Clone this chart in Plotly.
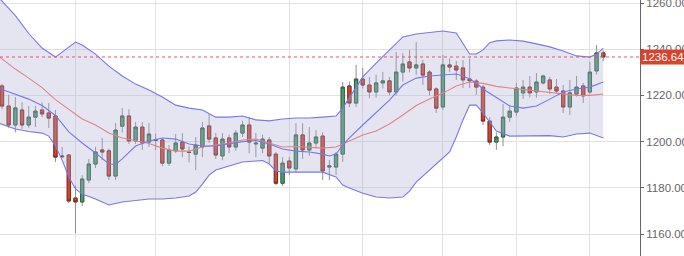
import plotly.graph_objects as go

# ---------------- data ----------------
days = list(range(91))
opens = [1224.1, 1215.4, 1207.2, 1213.7, 1207.2, 1210.6, 1213.7, 1212.4, 1211.1, 1193.8,
         1194.2, 1175.6, 1173.9, 1183.4, 1190.3, 1196.4, 1196.0, 1185.1, 1206.7, 1211.1,
         1200.3, 1206.3, 1199.8, 1200.5, 1200.7, 1190.7, 1196.0, 1199.8, 1195.5, 1194.6,
         1197.7, 1206.8, 1201.6, 1193.8, 1201.6, 1197.7, 1203.7, 1207.2, 1199.0, 1197.2,
         1200.7, 1194.6, 1182.0, 1191.6, 1188.2, 1202.9, 1196.4, 1199.4, 1202.4, 1189.0,
         1189.0, 1194.6, 1224.1, 1216.7, 1227.1, 1224.5, 1221.5, 1225.4, 1226.3, 1221.5,
         1230.1, 1234.5, 1231.9, 1233.6, 1230.1, 1222.8, 1215.0, 1233.2, 1232.7, 1231.9,
         1227.1, 1226.2, 1223.6, 1208.9, 1199.8, 1202.0, 1210.6, 1212.8, 1221.1, 1223.6,
         1221.5, 1225.4, 1226.7, 1223.6, 1221.9, 1215.0, 1220.6, 1224.1, 1221.5, 1230.6,
         1238.4]
highs = [1225.0, 1220.2, 1219.3, 1217.0, 1215.4, 1215.4, 1217.0, 1216.7, 1213.7, 1197.7,
         1194.6, 1181.0, 1185.5, 1192.5, 1197.7, 1201.6, 1197.0, 1208.0, 1214.5, 1214.0,
         1208.5, 1208.5, 1208.0, 1203.5, 1201.5, 1198.5, 1203.3, 1203.7, 1198.0, 1202.0,
         1208.5, 1212.0, 1203.7, 1203.7, 1203.0, 1205.0, 1209.0, 1210.6, 1203.7, 1203.0,
         1202.0, 1195.5, 1193.3, 1193.3, 1208.0, 1208.0, 1206.3, 1205.0, 1204.0, 1192.0,
         1195.5, 1225.8, 1226.0, 1233.2, 1231.9, 1228.0, 1229.0, 1230.2, 1228.0, 1238.8,
         1238.2, 1239.7, 1243.0, 1235.3, 1231.0, 1223.5, 1237.5, 1236.0, 1235.0, 1235.3,
         1236.0, 1227.0, 1224.5, 1210.6, 1204.0, 1216.3, 1215.8, 1225.4, 1226.7, 1228.4,
         1229.7, 1229.0, 1228.0, 1227.1, 1224.5, 1226.7, 1228.4, 1225.4, 1234.5, 1241.8,
         1239.5]
lows = [1214.0, 1206.0, 1204.0, 1205.5, 1206.0, 1206.3, 1210.6, 1205.9, 1191.2, 1192.9,
        1173.4, 1160.4, 1172.1, 1182.0, 1188.6, 1192.0, 1183.4, 1183.4, 1204.0, 1199.0,
        1199.0, 1196.4, 1197.7, 1196.4, 1189.4, 1189.5, 1195.0, 1193.3, 1191.0, 1187.7,
        1193.3, 1199.4, 1192.5, 1192.0, 1195.0, 1196.0, 1202.0, 1195.0, 1193.3, 1195.0,
        1190.7, 1181.2, 1180.8, 1185.5, 1186.8, 1192.5, 1193.8, 1197.0, 1183.4, 1183.4,
        1185.5, 1191.2, 1215.0, 1215.0, 1223.0, 1218.8, 1219.0, 1223.0, 1220.0, 1220.0,
        1226.0, 1230.0, 1228.8, 1224.5, 1220.0, 1212.4, 1213.7, 1230.0, 1226.7, 1223.2,
        1223.2, 1220.2, 1207.2, 1198.5, 1196.4, 1198.0, 1208.5, 1211.0, 1218.5, 1219.0,
        1219.0, 1224.8, 1220.6, 1221.0, 1212.4, 1211.5, 1219.5, 1216.7, 1220.6, 1229.0,
        1234.8]
closes = [1215.4, 1207.2, 1214.6, 1207.2, 1210.6, 1213.2, 1212.0, 1210.2, 1193.3, 1193.5,
          1174.3, 1173.9, 1183.8, 1190.3, 1195.5, 1195.5, 1185.1, 1205.0, 1211.1, 1200.3,
          1206.3, 1199.4, 1203.3, 1200.9, 1190.7, 1196.4, 1199.4, 1196.8, 1195.3, 1198.5,
          1205.9, 1201.1, 1194.2, 1201.1, 1197.7, 1203.7, 1207.2, 1199.8, 1199.3, 1201.1,
          1193.8, 1182.0, 1190.7, 1188.6, 1202.9, 1196.4, 1199.4, 1202.0, 1187.3, 1189.5,
          1194.6, 1223.6, 1216.7, 1227.1, 1224.5, 1221.5, 1225.4, 1226.3, 1221.5, 1230.1,
          1233.6, 1231.9, 1233.2, 1228.8, 1222.3, 1214.5, 1233.2, 1232.3, 1231.0, 1226.7,
          1226.3, 1223.6, 1208.9, 1199.8, 1202.0, 1210.6, 1213.2, 1223.2, 1223.6, 1221.1,
          1225.8, 1228.4, 1222.8, 1221.9, 1215.0, 1221.1, 1223.6, 1219.8, 1230.1, 1238.4,
          1236.64]

up_idx = [-1, 0, 2, 4, 6, 8, 10, 11, 12, 14, 16, 18, 20, 22, 24, 26, 28, 30, 32, 34,
          36, 38, 40, 42, 44, 46, 48, 50, 51, 52, 54, 56, 58, 60, 62, 64, 66, 68, 69, 70,
          71, 72, 73, 74, 76, 78, 80, 82, 84, 86, 88, 89, 90]
upper = [1264.0, 1260.9, 1254.5, 1246.8, 1240.5, 1236.6, 1241.0, 1243.1, 1241.8, 1237.9,
         1232.7, 1228.4, 1224.9, 1222.3, 1219.3, 1215.8, 1214.5, 1213.7, 1210.6, 1210.6,
         1211.1, 1209.4, 1209.0, 1209.8, 1210.2, 1210.2, 1210.6, 1211.1, 1214.5, 1218.9,
         1228.0, 1234.0, 1239.7, 1245.3, 1246.6, 1247.4, 1247.9, 1247.0, 1242.3, 1237.9,
         1237.9, 1239.7, 1242.8, 1243.6, 1244.0, 1243.5, 1242.3, 1241.0, 1239.2, 1237.1,
         1236.6, 1237.9, 1240.5]

lo_idx = [-1, 0, 2, 4, 6, 7, 8, 9, 10, 11, 12, 14, 16, 18, 20, 22, 24, 26, 28, 29,
          30, 31, 32, 34, 36, 38, 39, 40, 41, 42, 44, 46, 48, 50, 51, 52, 54, 56, 58, 60,
          61, 62, 64, 66, 67, 68, 69, 70, 71, 72, 73, 74, 76, 78, 80, 82, 84, 86, 88, 90]
lower = [1208.5, 1207.6, 1205.5, 1204.4, 1203.7, 1202.4, 1198.1, 1192.0, 1184.7, 1179.5,
         1177.3, 1175.2, 1172.6, 1173.9, 1174.7, 1175.2, 1175.2, 1175.6, 1176.5, 1178.2,
         1181.6, 1185.5, 1187.7, 1189.4, 1191.2, 1191.6, 1191.8, 1190.3, 1187.3, 1186.8,
         1186.8, 1186.8, 1186.8, 1184.7, 1181.2, 1179.9, 1177.7, 1176.0, 1175.6, 1176.0,
         1178.6, 1182.5, 1187.7, 1192.5, 1195.5, 1202.0, 1209.4, 1215.8, 1215.8, 1212.4,
         1208.5, 1204.6, 1202.4, 1202.4, 1202.6, 1202.6, 1202.0, 1203.3, 1203.7, 1201.6]

mid_idx = [-1, 0, 2, 4, 6, 8, 10, 12, 14, 16, 17, 18, 20, 22, 24, 26, 28, 30, 32, 34,
           36, 38, 40, 42, 44, 46, 48, 49, 50, 51, 52, 54, 56, 58, 60, 62, 64, 66, 68, 69,
           70, 71, 72, 74, 76, 78, 80, 82, 84, 86, 88, 90]
middle = [1223.6, 1222.6, 1220.6, 1218.4, 1215.6, 1211.3, 1204.2, 1199.4, 1195.1, 1190.3,
          1190.1, 1192.5, 1198.1, 1200.3, 1201.6, 1201.1, 1199.0, 1198.1, 1198.1, 1199.0,
          1200.0, 1200.5, 1199.0, 1196.8, 1195.9, 1195.5, 1194.6, 1193.8, 1194.6, 1198.5,
          1201.6, 1207.2, 1212.4, 1218.0, 1224.5, 1227.5, 1228.4, 1228.8, 1229.3, 1228.4,
          1227.1, 1225.4, 1222.8, 1219.1, 1215.4, 1214.5, 1215.4, 1218.4, 1221.5, 1222.8,
          1223.6, 1225.8]

ma_idx = [-1, 0, 2, 4, 6, 8, 10, 12, 14, 16, 18, 20, 22, 24, 26, 28, 30, 32, 34, 36,
          38, 40, 42, 44, 46, 48, 50, 52, 54, 56, 58, 60, 62, 64, 66, 68, 70, 72, 74, 76,
          78, 80, 82, 84, 86, 88, 90]
ma = [1238.0, 1235.8, 1231.4, 1227.5, 1223.4, 1218.2, 1214.1, 1209.8, 1207.2, 1203.7,
      1201.6, 1200.3, 1199.2, 1197.2, 1195.9, 1195.9, 1197.7, 1198.5, 1199.4, 1200.7,
      1201.1, 1199.4, 1197.7, 1197.9, 1197.7, 1197.2, 1197.7, 1200.3, 1202.9, 1204.6,
      1207.6, 1211.5, 1215.6, 1218.4, 1221.0, 1224.1, 1225.8, 1225.2, 1223.9, 1223.2,
      1222.6, 1221.9, 1221.5, 1220.6, 1220.0, 1220.0, 1220.6]

last_price = 1236.64
grid_days = [11, 23, 43, 54, 66, 77, 88]
y_ticks = [1160, 1180, 1200, 1220, 1240, 1260]

# ---------------- styles ----------------
GREEN = "#4d9e6c"
GREEN_EDGE = "#2f5e42"
RED = "#d8432d"
RED_EDGE = "#7c2a1d"
WICK = "#8f8f8f"
BAND = "#7878e6"
MA_COLOR = "#e08585"
FONT = "Liberation Sans, Arial, sans-serif"

fig = go.Figure()

# band fill
fig.add_trace(go.Scatter(
    x=up_idx + lo_idx[::-1], y=upper + lower[::-1],
    fill="toself", fillcolor="rgba(175,175,215,0.33)",
    line=dict(width=0), mode="lines", hoverinfo="skip", showlegend=False))

fig.add_trace(go.Scatter(x=ma_idx, y=ma, mode="lines",
                         line=dict(color=MA_COLOR, width=1.1), showlegend=False))
fig.add_trace(go.Scatter(x=mid_idx, y=middle, mode="lines",
                         line=dict(color=BAND, width=1.1), showlegend=False))
fig.add_trace(go.Scatter(x=up_idx, y=upper, mode="lines",
                         line=dict(color=BAND, width=1.1), showlegend=False))
fig.add_trace(go.Scatter(x=lo_idx, y=lower, mode="lines",
                         line=dict(color=BAND, width=1.1), showlegend=False))

# wicks (gray)
fig.add_trace(go.Candlestick(
    x=days, open=opens, high=highs, low=lows, close=closes,
    increasing=dict(line=dict(color=WICK, width=1), fillcolor=GREEN),
    decreasing=dict(line=dict(color=WICK, width=1), fillcolor=RED),
    whiskerwidth=0, showlegend=False, hoverinfo="skip"))

# bodies with darker outline
body_hi = [max(o, c) for o, c in zip(opens, closes)]
body_lo = [min(o, c) for o, c in zip(opens, closes)]
fig.add_trace(go.Candlestick(
    x=days, open=opens, high=body_hi, low=body_lo, close=closes,
    increasing=dict(line=dict(color=GREEN_EDGE, width=1), fillcolor=GREEN),
    decreasing=dict(line=dict(color=RED_EDGE, width=1), fillcolor=RED),
    whiskerwidth=0, showlegend=False, hoverinfo="skip"))

# last price dotted line
fig.add_shape(type="line", xref="paper", x0=0, x1=1, yref="y",
              y0=last_price, y1=last_price, layer="above",
              line=dict(color="#e25a5a", width=1, dash="dot"))

fig.add_annotation(xref="paper", x=1, xanchor="left", yref="y", y=last_price,
                   text=f"{last_price:.2f}", showarrow=False,
                   font=dict(family=FONT, size=11.5, color="white"),
                   bgcolor=RED, borderpad=1, xshift=0)

fig.update_layout(
    width=684, height=256,
    margin=dict(l=0, r=44, t=0, b=0, autoexpand=False),
    paper_bgcolor="white", plot_bgcolor="white",
    showlegend=False, hovermode=False,
    font=dict(family=FONT),
    xaxis=dict(range=[-0.3, 95.5], rangeslider=dict(visible=False),
               tickvals=grid_days, showticklabels=False, ticks="",
               showgrid=True, gridcolor="#e2e2e2", gridwidth=1,
               zeroline=False, showline=False, fixedrange=True),
    yaxis=dict(side="right", range=[1150.5, 1261.3], tickvals=y_ticks,
               tickformat=".2f", ticks="outside", ticklen=3, tickcolor="#666",
               showline=True, linecolor="#666", linewidth=1,
               ticklabeloverflow="allow",
               tickfont=dict(family=FONT, size=11.5, color="#666"),
               showgrid=True, gridcolor="#e2e2e2", gridwidth=1,
               zeroline=False, automargin=False, fixedrange=True),
)

fig.write_html("out.html")
